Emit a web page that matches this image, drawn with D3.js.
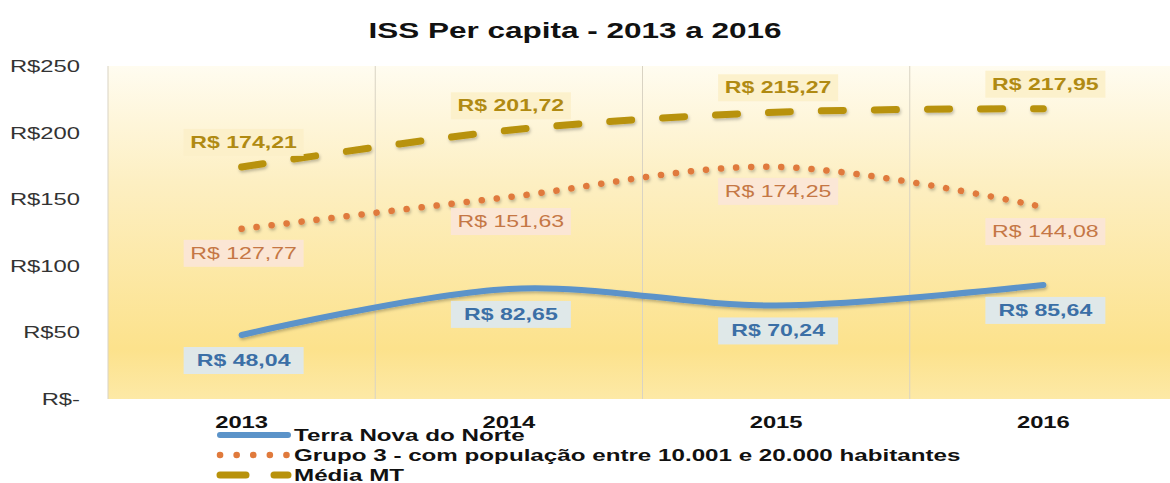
<!DOCTYPE html>
<html>
<head>
<meta charset="utf-8">
<script src="https://cdn.jsdelivr.net/npm/d3@7"></script>
<style>
  body { margin: 0; background: #fff; }
  text { font-family: "Liberation Sans", Arial, sans-serif; }
</style>
</head>
<body>
<div id="chart"></div>
<script>
// chart data
var years = ["2013", "2014", "2015", "2016"];
var terraNova = [48.04, 82.65, 70.24, 85.64];
var grupo3 = [127.77, 151.63, 174.25, 144.08];
var mediaMT = [174.21, 201.72, 215.27, 217.95];
var yTicks = [0, 50, 100, 150, 200, 250];
var seriesNames = ["Terra Nova do Norte",
  "Grupo 3 - com população entre 10.001 e 20.000 habitantes",
  "Média MT"];

var svgWidth = 1170;
var svgHeight = 483;

// the original picture has wide, stretched lettering
var SX = 1.4;

var margin = { top: 66, right: 0, bottom: 84, left: 108 };
var chartWidth = svgWidth - margin.left - margin.right;
var chartHeight = svgHeight - margin.top - margin.bottom;

var svg = d3.select("#chart")
  .append("svg")
  .attr("width", svgWidth)
  .attr("height", svgHeight);

var defs = svg.append("defs");
var grad = defs.append("linearGradient")
  .attr("id", "bg")
  .attr("x1", 0).attr("y1", 0).attr("x2", 0).attr("y2", 1);
grad.append("stop").attr("offset", "0%").attr("stop-color", "#fffcf0");
grad.append("stop").attr("offset", "35%").attr("stop-color", "#fdefc2");
grad.append("stop").attr("offset", "85%").attr("stop-color", "#fce28c");
grad.append("stop").attr("offset", "100%").attr("stop-color", "#fde9a6");

var shadow = defs.append("filter").attr("id", "shadow")
  .attr("x", "-10%").attr("y", "-50%").attr("width", "120%").attr("height", "200%");
shadow.append("feDropShadow")
  .attr("dx", 1).attr("dy", 2).attr("stdDeviation", 1.5)
  .attr("flood-color", "#000").attr("flood-opacity", 0.25);

var chartGroup = svg.append("g")
  .attr("transform", `translate(${margin.left}, ${margin.top})`);

// scales
var xBand = d3.scaleBand()
  .domain(years)
  .range([0, chartWidth + 7]);

var xScale = d => xBand(d) + xBand.bandwidth() / 2;

var yScale = d3.scaleLinear()
  .domain([0, 250])
  .range([chartHeight, 0]);

// background
chartGroup.append("rect")
  .attr("width", chartWidth)
  .attr("height", chartHeight)
  .attr("fill", "url(#bg)");

// vertical grid lines at band edges
chartGroup.selectAll(".vgrid")
  .data(years)
  .enter()
  .append("line")
  .attr("x1", d => xBand(d))
  .attr("x2", d => xBand(d))
  .attr("y1", 0)
  .attr("y2", chartHeight)
  .attr("stroke", "#d9d3c3")
  .attr("stroke-width", 1);

// y axis
var leftAxis = d3.axisLeft(yScale)
  .tickValues(yTicks)
  .tickSize(0)
  .tickPadding(20)
  .tickFormat(d => d === 0 ? "R$-" : "R$" + d);

chartGroup.append("g")
  .call(leftAxis)
  .call(g => g.select(".domain").remove())
  .selectAll("text")
  .attr("font-size", 17)
  .attr("fill", "#333")
  .attr("transform", `scale(${SX},1)`)
  .style("font-family", "Liberation Sans, Arial, sans-serif");

// x axis
var bottomAxis = d3.axisBottom(xBand).tickSize(0).tickPadding(17);
chartGroup.append("g")
  .attr("transform", `translate(0, ${chartHeight})`)
  .call(bottomAxis)
  .call(g => g.select(".domain").remove())
  .selectAll("text")
  .attr("font-size", 17)
  .attr("font-weight", "bold")
  .attr("fill", "#111")
  .attr("transform", `scale(${SX},1)`)
  .style("font-family", "Liberation Sans, Arial, sans-serif");

// series
var series = [
  { name: seriesNames[0], values: terraNova, color: "#5b93c9", dash: null, width: 6,
    labelColor: "#3b6fa6", labelBg: "#dce8f2", bold: true, offset: 25 },
  { name: seriesNames[1], values: grupo3, color: "#e07a3c", dash: "0.1,15", width: 6.5,
    labelColor: "#c57745", labelBg: "#fbe6d8", bold: false, offset: 24 },
  { name: seriesNames[2], values: mediaMT, color: "#b8920b", dash: "22,31", width: 7,
    labelColor: "#b08a12", labelBg: "#fcf0c9", bold: true, offset: -25 }
];

var line = d3.line()
  .x((d, i) => xScale(years[i]))
  .y(d => yScale(d))
  .curve(d3.curveCatmullRom.alpha(0.5));

series.forEach(function(s) {
  chartGroup.append("path")
    .datum(s.values)
    .attr("d", line)
    .attr("fill", "none")
    .attr("stroke", s.color)
    .attr("stroke-width", s.width)
    .attr("stroke-linecap", "round")
    .attr("stroke-dasharray", s.dash)
    .attr("filter", "url(#shadow)");
});

// data labels
series.forEach(function(s) {
  var lbl = chartGroup.selectAll(null)
    .data(s.values)
    .enter()
    .append("g")
    .attr("transform", (d, i) => `translate(${xScale(years[i]) + 2}, ${yScale(d) + s.offset})`);

  lbl.append("rect")
    .attr("x", -60)
    .attr("y", -13)
    .attr("width", 120)
    .attr("height", 27)
    .attr("fill", s.labelBg)
    .attr("opacity", 0.9);

  lbl.append("text")
    .attr("text-anchor", "middle")
    .attr("dy", "0.36em")
    .attr("font-size", 16.5)
    .attr("font-weight", s.bold ? "bold" : "normal")
    .attr("fill", s.labelColor)
    .attr("transform", `scale(${SX},1)`)
    .text(d => "R$ " + d3.format(".2f")(d).replace(".", ","));
});

// title
svg.append("text")
  .attr("transform", `translate(575, 38) scale(${SX},1)`)
  .attr("text-anchor", "middle")
  .attr("font-size", 22.5)
  .attr("font-weight", "bold")
  .attr("fill", "#111")
  .text("ISS Per capita - 2013 a 2016");

// legend
var legend = svg.append("g").attr("transform", "translate(217, 435)");
series.forEach(function(s, i) {
  var row = legend.append("g").attr("transform", `translate(0, ${i * 20})`);
  row.append("line")
    .attr("x1", 3).attr("x2", 71)
    .attr("y1", 0).attr("y2", 0)
    .attr("stroke", s.color)
    .attr("stroke-width", s.width)
    .attr("stroke-linecap", "round")
    .attr("stroke-dasharray", i === 1 ? "0.1,16.5" : (i === 2 ? "26,28" : null));
  row.append("text")
    .attr("transform", `translate(77, 0) scale(1.44,1)`)
    .attr("dy", "0.36em")
    .attr("font-size", 16.8)
    .attr("font-weight", "bold")
    .attr("fill", "#111")
    .text(s.name);
});
</script>
</body>
</html>
